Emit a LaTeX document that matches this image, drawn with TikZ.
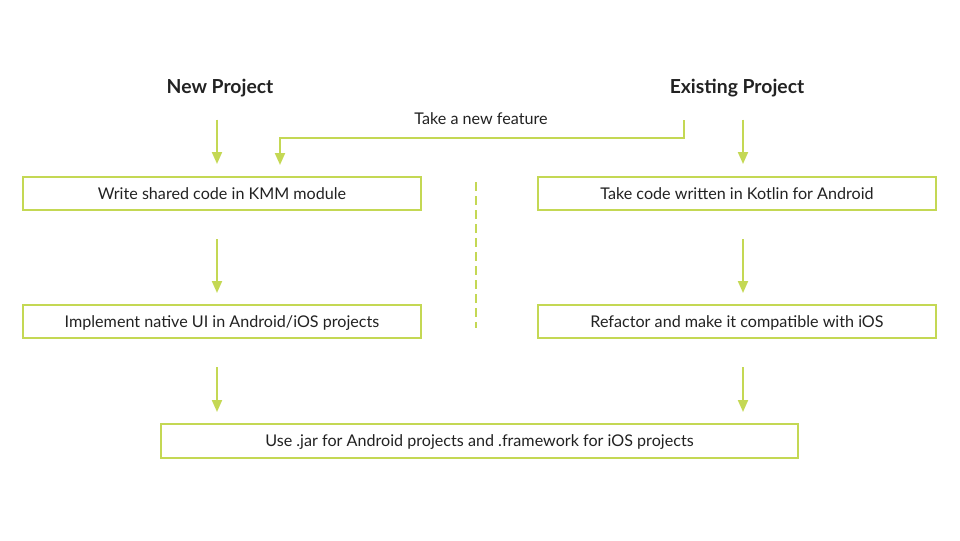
\documentclass[tikz,border=0pt]{standalone}
\usepackage{fontspec}
\setmainfont{Lato}
\usetikzlibrary{arrows.meta,positioning}
\definecolor{kgreen}{RGB}{196,216,84}
\definecolor{ktext}{RGB}{34,34,34}
\def\px{0.75pt}
\tikzset{>={Triangle[width=10*\px,length=12*\px]}}
\tikzstyle{step box}=[rectangle,draw=kgreen,fill=white,line width=2*\px,minimum height=33*\px,text=ktext,font=\fontsize{12.1pt}{14pt}\selectfont,inner sep=0pt,text depth=0.5pt]
\tikzstyle{title}=[text=ktext,font=\fontsize{14.5pt}{17pt}\selectfont\bfseries,inner sep=0pt]
\tikzstyle{flow}=[->,draw=kgreen,line width=2*\px]

\begin{document}
\begin{tikzpicture}[x=\px,y=-\px]
\useasboundingbox (0,0) rectangle (960,540);
\def \lx {217};
\def \rx {743};

% headings
\node[title] (new) at (220,88.5) {New Project};
\node[title] (old) at (737,88.5) {Existing Project};

% steps
\node[step box,minimum width=398*\px] (w1) at (222,193.5) {Write shared code in KMM module};
\node[step box,minimum width=398*\px] (t1) at (737,193.5) {Take code written in Kotlin for Android};
\node[step box,minimum width=398*\px] (w2) at (222,321.5) {Implement native UI in Android/iOS projects};
\node[step box,minimum width=398*\px] (t2) at (737,321.5) {Refactor and make it compatible with iOS};
\node[step box,minimum width=637*\px,minimum height=34*\px] (use) at (479.5,441) {Use .jar for Android projects and .framework for iOS projects};

\node[text=ktext,font=\fontsize{12.1pt}{14pt}\selectfont,inner sep=0pt] (feat) at (481,119) {Take a new feature};

\coordinate (L) at (\lx,0);
\coordinate (R) at (\rx,0);

% vertical arrows
\draw[flow,shorten <=22*\px,shorten >=12*\px] (new.south -| L) -- (w1.north -| L);
\draw[flow,shorten <=22*\px,shorten >=12*\px] (old.south -| R) -- (t1.north -| R);
\foreach \a/\b in {w1/w2,w2/use} {
	\draw[flow,shorten <=28*\px,shorten >=11*\px] (\a.south -| L) -- (\b.north -| L);
};
\foreach \a/\b in {t1/t2,t2/use} {
	\draw[flow,shorten <=28*\px,shorten >=11*\px] (\a.south -| R) -- (\b.north -| R);
};

% new feature into the left column
\coordinate (fs) at (684,120);
\coordinate (fe) at (280,165);
\draw[flow] (fs) -- (684,138) -| (fe);

% separator
\coordinate (s1) at (476,182);
\coordinate (s2) at (476,328);
\draw[kgreen,line width=2*\px,dash pattern=on 9*\px off 5*\px] (s1) -- (s2);

\end{tikzpicture}
\end{document}
